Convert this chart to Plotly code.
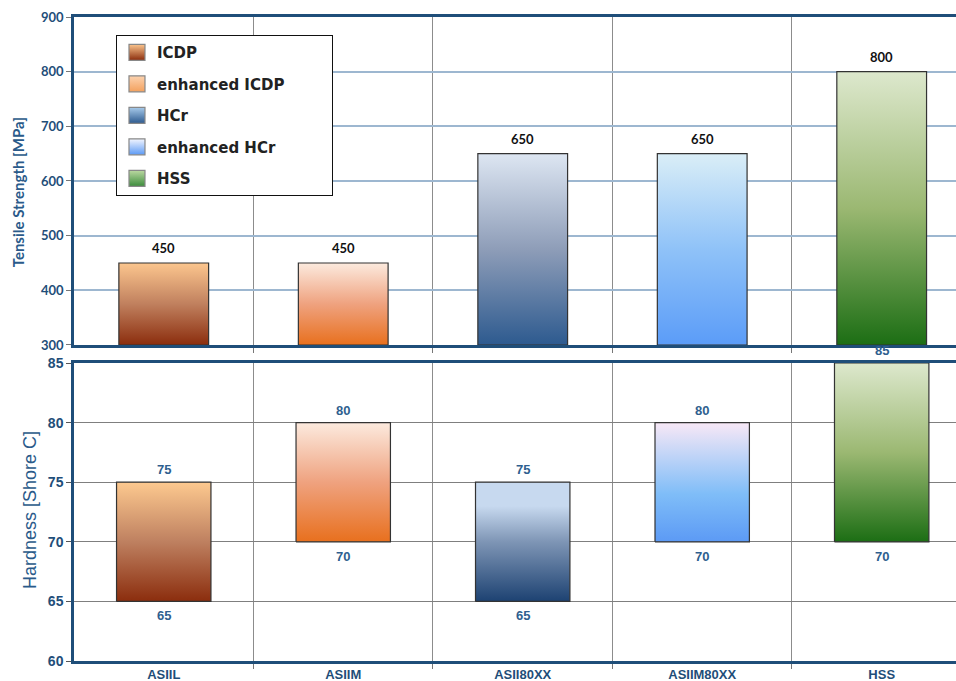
import plotly.graph_objects as go

# ---------------- data ----------------
grades = ["ASIIL", "ASIIM", "ASII80XX", "ASIIM80XX", "HSS"]
series = ["ICDP", "enhanced ICDP", "HCr", "enhanced HCr", "HSS"]
tensile = [450, 450, 650, 650, 800]          # MPa
hard_low = [65, 70, 65, 70, 70]              # Shore C
hard_high = [75, 80, 75, 80, 85]             # Shore C
tensile_ticks = [300, 400, 500, 600, 700, 800, 900]
hard_ticks = [60, 65, 70, 75, 80, 85]

# ---------------- styles ----------------
top_grad = [
    [[0, "#8B2D0D"], [0.5, "#C0805E"], [1, "#FCC68E"]],
    [[0, "#E8701E"], [0.5, "#EFA27F"], [1, "#FCEADE"]],
    [[0, "#2D5A8F"], [0.5, "#8E9DB8"], [1, "#DDE6F2"]],
    [[0, "#5B9CF8"], [0.5, "#8FC2F8"], [1, "#DAEEF7"]],
    [[0, "#1C6E14"], [0.5, "#9BB872"], [1, "#DDE8CD"]],
]
bot_grad = [
    [[0, "#8B2D0D"], [0.5, "#BE8060"], [1, "#FDC98F"]],
    [[0, "#E8701E"], [0.5, "#EFA27F"], [1, "#FCEADE"]],
    [[0, "#1D4272"], [0.5, "#7E95B5"], [0.8, "#C7D9EF"], [1, "#C7D9EF"]],
    [[0, "#5C9AF5"], [0.4, "#7FBDF8"], [1, "#F8E8F6"]],
    [[0, "#1C6E14"], [0.5, "#9BB872"], [1, "#DDE8CD"]],
]
legend_cols = [("#FCC68E", "#8B2D0D"), ("#FCD3B0", "#F3A15E"),
               ("#A8CBEB", "#2D5A8F"), ("#F4F6FF", "#5C9AF5"),
               ("#BCD9A2", "#3C8C3C")]

DARK = "#1F4E79"
LBL = "#2F5F8F"
TOP_W = 0.25
BOT_W = 0.263
TOP_BASE = tensile_ticks[0]
PAD = "\u00a0" * 8

fig = go.Figure()

def bar_shape(i, lo, hi, w):
    xs = [i - w, i + w, i + w, i - w, i - w]
    ys = [lo, lo, hi, hi, lo]
    return xs, ys

for i, v in enumerate(tensile):
    xs, ys = bar_shape(i, TOP_BASE, v, TOP_W)
    fig.add_trace(go.Scatter(
        x=xs, y=ys, xaxis="x2", yaxis="y2", mode="lines", fill="toself",
        fillgradient=dict(type="vertical", colorscale=top_grad[i]),
        line=dict(color="#333333", width=1.2), showlegend=False, hoverinfo="skip"))

for i, (lo, hi) in enumerate(zip(hard_low, hard_high)):
    xs, ys = bar_shape(i, lo, hi, BOT_W)
    fig.add_trace(go.Scatter(
        x=xs, y=ys, xaxis="x", yaxis="y", mode="lines", fill="toself",
        fillgradient=dict(type="vertical", colorscale=bot_grad[i]),
        line=dict(color="#333333", width=1.2), showlegend=False, hoverinfo="skip"))

# legend entries
for name, (ctop, cbot) in zip(series, legend_cols):
    fig.add_trace(go.Scatter(
        x=[None], y=[None], xaxis="x2", yaxis="y2", mode="markers",
        name=name + (PAD if name == "enhanced ICDP" else ""),
        legendgroup=name,
        marker=dict(symbol="square", size=17, color=ctop,
                    gradient=dict(type="vertical", color=cbot),
                    line=dict(color="#888888", width=1.2))))

ann = []
for i, v in enumerate(tensile):
    ann.append(dict(x=i, y=v, xref="x2", yref="y2", text=f"<b>{v}</b>",
                    showarrow=False, yanchor="bottom", yshift=5,
                    font=dict(family="Lato", size=13, color="#111111")))
for i, (lo, hi) in enumerate(zip(hard_low, hard_high)):
    ann.append(dict(x=i, y=hi, xref="x", yref="y", text=f"<b>{hi}</b>",
                    showarrow=False, yanchor="bottom", yshift=3,
                    font=dict(family="Arial", size=13, color=LBL)))
    ann.append(dict(x=i, y=lo, xref="x", yref="y", text=f"<b>{lo}</b>",
                    showarrow=False, yanchor="top", yshift=-5,
                    font=dict(family="Arial", size=13, color=LBL)))
# axis titles
ann.append(dict(x=0, y=0.727, xref="paper", yref="paper", xshift=-56.5,
                xanchor="center", yanchor="middle",
                text="Tensile Strength [MPa]", textangle=-90, showarrow=False,
                font=dict(family="Lato", size=15, color="#2A5A8A", weight="bold")))
ann.append(dict(x=0, y=0.2345, xref="paper", yref="paper", xshift=-44,
                xanchor="center", yanchor="middle",
                text="Hardness [Shore C]", textangle=-90, showarrow=False,
                font=dict(family="Arial", size=18, color="#2A5A8A")))

bounds = [i + 0.5 for i in range(len(grades) - 1)]
xr = [-0.5, 4.414]

common_x = dict(range=xr, tickvals=list(range(len(grades))), ticktext=grades,
                ticks="", showgrid=False, zeroline=False, automargin=False,
                showline=True, linecolor=DARK, linewidth=2.5, mirror=True,
                minor=dict(tickvals=bounds, ticks="outside", ticklen=5,
                           tickcolor="#777777", showgrid=True,
                           gridcolor="#8C8C8C", gridwidth=1))

fig.update_layout(
    width=956, height=681,
    margin=dict(l=74, r=0, t=17, b=20),
    paper_bgcolor="white", plot_bgcolor="white",
    xaxis=dict(**common_x, anchor="y", ticklabelstandoff=0,
               tickfont=dict(family="Arial", size=13, color=DARK, weight="bold")),
    xaxis2=dict(**common_x, anchor="y2", matches="x", showticklabels=False),
    yaxis=dict(domain=[0, 0.4627], range=[60, 85], tickvals=hard_ticks,
               showline=True, linecolor=DARK, linewidth=2.5, ticks="outside",
               ticklen=5, tickcolor="#555555", gridcolor="#7F7F7F", gridwidth=1,
               zeroline=False, automargin=False,
               tickfont=dict(family="Arial", size=14, color=DARK, weight="bold")),
    yaxis2=dict(domain=[0.4907, 1], range=[300, 900], tickvals=tensile_ticks,
                showline=True, linecolor=DARK, linewidth=2.5, ticks="outside",
                ticklen=5, tickcolor="#777777", gridcolor="#9DB7D0", gridwidth=1.5,
                zeroline=False, automargin=False,
                tickfont=dict(family="Lato", size=13, color=DARK, weight="bold")),
    legend=dict(x=0.0476, y=0.972, xanchor="left", yanchor="top",
                bgcolor="white", bordercolor="#111111", borderwidth=1,
                tracegroupgap=9,
                font=dict(family="DejaVu Sans", size=15, color="#222222", weight="bold")),
    annotations=ann,
    showlegend=True,
    hovermode=False,
)

fig.write_html("out.html", config={"displayModeBar": False},
               post_script="document.body.style.margin='0';document.body.style.overflow='hidden';")
